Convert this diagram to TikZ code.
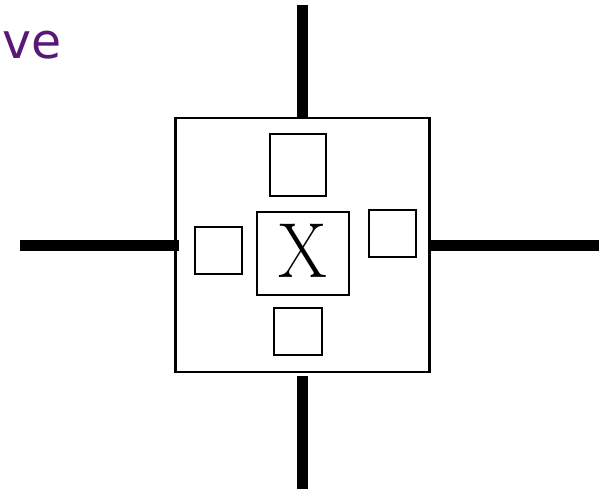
\documentclass[tikz,border=0pt]{standalone}
\usepackage{fontspec}
\newfontfamily\labelfont{DejaVu Sans}
\definecolor{titlepurple}{RGB}{88,24,120}

\begin{document}
\begin{tikzpicture}[x=1pt,y=-1pt,line cap=butt,
  box/.style={draw,line width=2pt,inner sep=0pt},
  wire/.style={line width=11pt}]

\useasboundingbox (0,0) rectangle (599,489);

% title fragment
\node[anchor=base west,inner sep=0pt,text=titlepurple,font=\labelfont\fontsize{49}{49}\selectfont] (title) at (2,59) {ve};

% outer block
\node[box,line width=2.5pt,minimum width=254.3pt,minimum height=254.2pt] (outer) at (302.4,245) {};

% inner boxes
\node[box,minimum width=92.3pt,minimum height=82.4pt,text depth=6pt,font=\fontsize{78}{78}\selectfont] (core) at (302.8,253.5) {\scalebox{0.9}[1]{X}};
\node[box,minimum width=56pt,minimum height=62pt] (up) at (297.8,164.7) {};
\node[box,minimum width=47.3pt,minimum height=46.7pt] (lt) at (218.3,250.3) {};
\node[box,minimum width=47pt,minimum height=47.3pt] (rt) at (392.5,233.3) {};
\node[box,minimum width=47.4pt,minimum height=47.3pt] (dn) at (298,331.7) {};

% wire ends
\coordinate (N) at (302.8,5);
\coordinate (S) at (302.8,488.5);
\coordinate (W) at (20,245);
\coordinate (E) at (599,245);

% wires
\draw[wire] (N) -- (N |- outer.north);
\draw[wire] ([yshift=-3pt]S |- outer.south) -- (S);
\draw[wire] (W) -- ([xshift=5pt]outer.west);
\draw[wire] (outer.east) -- (E);

\end{tikzpicture}
\end{document}
